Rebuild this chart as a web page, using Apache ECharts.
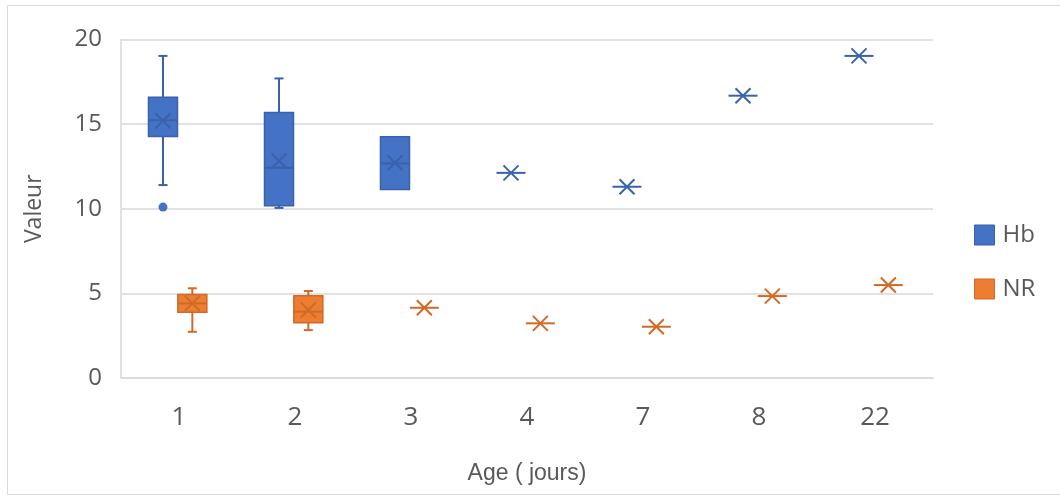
<!DOCTYPE html>
<html>
<head>
<meta charset="utf-8">
<script src="https://cdn.jsdelivr.net/npm/echarts@6/dist/echarts.min.js"></script>
<style>
html,body{margin:0;padding:0;background:#fff;}
#chart{width:1060px;height:498px;}
</style>
</head>
<body>
<div id="chart"></div>
<script>
const categories = ['1', '2', '3', '4', '7', '8', '22'];
const yTicks = [0, 5, 10, 15, 20];

// Hb statistics per age
const hbMin    = [11.40, 10.05, 11.14, 12.12, 11.30, 16.68, 19.03];
const hbQ1     = [14.27, 10.17, 11.14, 12.12, 11.30, 16.68, 19.03];
const hbMedian = [15.23, 12.42, 12.68, 12.12, 11.30, 16.68, 19.03];
const hbQ3     = [16.59, 15.69, 14.25, 12.12, 11.30, 16.68, 19.03];
const hbMax    = [19.03, 17.70, 14.25, 12.12, 11.30, 16.68, 19.03];
const hbMean   = [15.20, 12.83, 12.72, 12.12, 11.30, 16.68, 19.03];
const hbOutliers = [[0, 10.10]];

// NR statistics per age
const nrMin    = [2.73, 2.83, 4.15, 3.23, 3.03, 4.84, 5.49];
const nrQ1     = [3.88, 3.27, 4.15, 3.23, 3.03, 4.84, 5.49];
const nrMedian = [4.41, 3.92, 4.15, 3.23, 3.03, 4.84, 5.49];
const nrQ3     = [4.94, 4.86, 4.15, 3.23, 3.03, 4.84, 5.49];
const nrMax    = [5.30, 5.14, 4.15, 3.23, 3.03, 4.84, 5.49];
const nrMean   = [4.41, 4.02, 4.15, 3.23, 3.03, 4.84, 5.49];
const nrOutliers = [];

function rows(mn, q1, md, q3, mx, mean) {
  return categories.map((c, i) => [i, mn[i], q1[i], md[i], q3[i], mx[i], mean[i]]);
}

function boxRender(frac, fill, stroke) {
  return function (params, api) {
    const idx = api.value(0);
    const band = api.size([1, 0])[0];
    const cx = api.coord([idx, 0])[0] + band * frac;
    const w = band * 0.25;
    const Y = v => api.coord([idx, v])[1];
    const mn = api.value(1), q1 = api.value(2), md = api.value(3),
          q3 = api.value(4), mx = api.value(5), mean = api.value(6);
    const ls = { stroke: stroke, lineWidth: 2, fill: null };
    const ch = [];
    const cap = 4.5;
    if (mx > q3) {
      ch.push({ type: 'line', shape: { x1: cx, y1: Y(q3), x2: cx, y2: Y(mx) }, style: ls });
      ch.push({ type: 'line', shape: { x1: cx - cap, y1: Y(mx), x2: cx + cap, y2: Y(mx) }, style: ls });
    }
    if (mn < q1) {
      ch.push({ type: 'line', shape: { x1: cx, y1: Y(q1), x2: cx, y2: Y(mn) }, style: ls });
      ch.push({ type: 'line', shape: { x1: cx - cap, y1: Y(mn), x2: cx + cap, y2: Y(mn) }, style: ls });
    }
    if (q3 > q1) {
      ch.push({ type: 'rect', shape: { x: cx - w / 2, y: Y(q3), width: w, height: Y(q1) - Y(q3) },
        style: { fill: fill, stroke: stroke, lineWidth: 1.5 } });
    }
    ch.push({ type: 'line', shape: { x1: cx - w / 2, y1: Y(md), x2: cx + w / 2, y2: Y(md) }, style: ls });
    const h = 7.5, ym = Y(mean);
    ch.push({ type: 'line', shape: { x1: cx - h, y1: ym - h, x2: cx + h, y2: ym + h }, style: ls });
    ch.push({ type: 'line', shape: { x1: cx - h, y1: ym + h, x2: cx + h, y2: ym - h }, style: ls });
    return { type: 'group', children: ch };
  };
}

function outlierRender(frac, fill) {
  return function (params, api) {
    const idx = api.value(0);
    const band = api.size([1, 0])[0];
    const p = api.coord([idx, api.value(1)]);
    return { type: 'circle', shape: { cx: p[0] + band * frac, cy: p[1], r: 4.5 }, style: { fill: fill } };
  };
}

const HB_FILL = '#4472C4', HB_STROKE = '#3A62AC';
const NR_FILL = '#ED7D31', NR_STROKE = '#D06A28';
const HB_OFF = -0.138, NR_OFF = 0.115;

const chart = echarts.init(document.getElementById('chart'), null, { renderer: 'canvas' });
chart.setOption({
  animation: false,
  backgroundColor: '#ffffff',
  graphic: [{
    type: 'rect', shape: { x: 7.5, y: 5.5, width: 1100, height: 489 },
    style: { fill: null, stroke: '#D9D9D9', lineWidth: 1 }, silent: true, z: -10
  }],
  grid: { left: 121, right: 127, top: 39.5, bottom: 120, containLabel: false },
  legend: {
    orient: 'vertical', left: 969, top: 218, itemWidth: 20, itemHeight: 20, itemGap: 30,
    icon: 'rect',
    textStyle: { fontFamily: 'Open Sans', fontSize: 24, color: '#595959', padding: [0, 0, 0, 3] },
    data: [
      { name: 'Hb', itemStyle: { color: HB_FILL, borderColor: HB_STROKE, borderWidth: 1 } },
      { name: 'NR', itemStyle: { color: NR_FILL, borderColor: NR_STROKE, borderWidth: 1 } }
    ]
  },
  xAxis: {
    type: 'category', data: categories, boundaryGap: true,
    name: 'Age ( jours)', nameLocation: 'middle', nameGap: 84,
    nameTextStyle: { fontFamily: 'Liberation Sans', fontSize: 23, color: '#595959' },
    axisLine: { show: true, lineStyle: { color: '#D9D9D9', width: 1.5 } },
    axisTick: { show: false },
    axisLabel: { fontFamily: 'Open Sans', fontSize: 26, color: '#595959', margin: 27 },
    splitLine: { show: false }
  },
  yAxis: {
    type: 'value', min: 0, max: 20, interval: 5,
    name: 'Valeur', nameLocation: 'middle', nameGap: 75, nameRotate: 90,
    nameTextStyle: { fontFamily: 'Open Sans', fontSize: 23, color: '#595959' },
    axisLine: { show: true, lineStyle: { color: '#D9D9D9', width: 1.5 } },
    axisTick: { show: false },
    axisLabel: { fontFamily: 'Open Sans', fontSize: 24, color: '#595959', margin: 19,
      formatter: v => yTicks.includes(v) ? String(v) : '' },
    splitLine: { show: true, lineStyle: { color: '#D9D9D9', width: 1.5 } }
  },
  series: [
    { name: 'Hb', type: 'custom', renderItem: boxRender(HB_OFF, HB_FILL, HB_STROKE),
      itemStyle: { color: HB_FILL }, encode: { x: 0, y: [1, 2, 3, 4, 5, 6] },
      data: rows(hbMin, hbQ1, hbMedian, hbQ3, hbMax, hbMean), z: 3 },
    { name: 'NR', type: 'custom', renderItem: boxRender(NR_OFF, NR_FILL, NR_STROKE),
      itemStyle: { color: NR_FILL }, encode: { x: 0, y: [1, 2, 3, 4, 5, 6] },
      data: rows(nrMin, nrQ1, nrMedian, nrQ3, nrMax, nrMean), z: 3 },
    { name: 'Hb outliers', type: 'custom', renderItem: outlierRender(HB_OFF, HB_FILL),
      encode: { x: 0, y: 1 }, data: hbOutliers, z: 3 },
    { name: 'NR outliers', type: 'custom', renderItem: outlierRender(NR_OFF, NR_FILL),
      encode: { x: 0, y: 1 }, data: nrOutliers, z: 3 }
  ]
});
</script>
</body>
</html>
